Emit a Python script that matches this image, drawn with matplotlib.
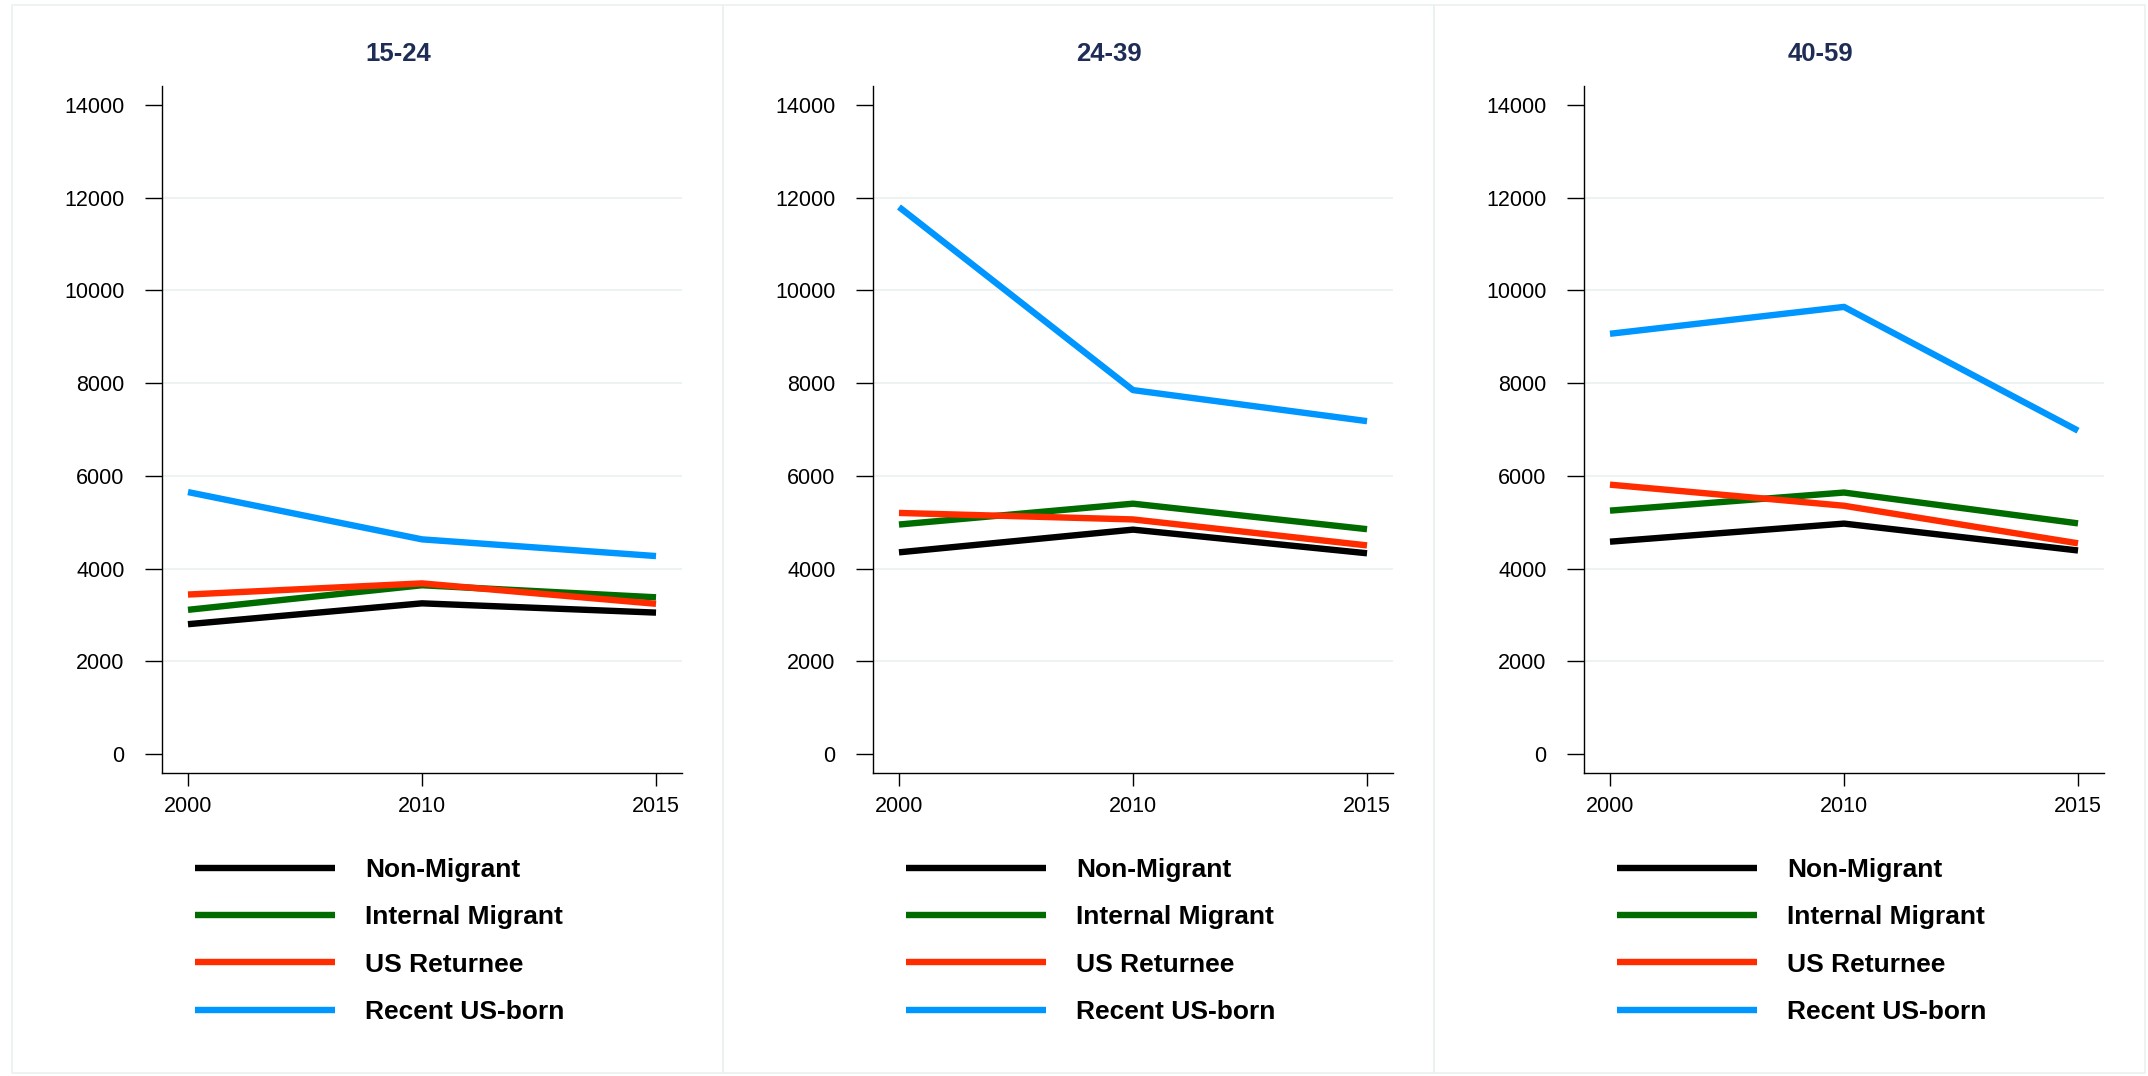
import matplotlib.pyplot as plt
from matplotlib.patches import Rectangle
import numpy as np

plt.rcParams['font.family'] = ['Liberation Sans', 'DejaVu Sans']

# chart data
years = ['2000', '2010', '2015']
age_groups = ['15-24', '24-39', '40-59']
series_names = ['Non-Migrant', 'Internal Migrant', 'US Returnee', 'Recent US-born']
series_colors = ['#000000', '#006c00', '#ff2c00', '#0096ff']

# one list per series, one row per age group
non_migrant = [[2800, 3250, 3050], [4350, 4840, 4330], [4580, 4970, 4390]]
internal_migrant = [[3110, 3640, 3380], [4950, 5400, 4850], [5250, 5640, 4975]]
us_returnee = [[3440, 3680, 3240], [5200, 5060, 4500], [5810, 5355, 4545]]
recent_us_born = [[5650, 4630, 4270], [11800, 7850, 7180], [9065, 9645, 6975]]

y_ticks = [0, 2000, 4000, 6000, 8000, 10000, 12000, 14000]

W, H = 2148, 1076
fig = plt.figure(figsize=(W / 100, H / 100), dpi=100)
fig.patch.set_facecolor('white')

panel_w = 711
all_series = [non_migrant, internal_migrant, us_returnee, recent_us_born]
x = np.arange(len(years))

for k, group in enumerate(age_groups):
    off = panel_w * k

    # light panel frame
    fig.patches.append(Rectangle(((12 + off) / W, 3 / H), panel_w / W, 1068 / H,
                                 transform=fig.transFigure, facecolor='none',
                                 edgecolor='#eaf1f1', lw=1.2, zorder=0))

    ax = fig.add_axes([(162 + off) / W, (H - 773) / H, 520 / W, 687 / H])
    for name, color, data in zip(series_names, series_colors, all_series):
        ax.plot(x, data[k], color=color, lw=4.6, label=name,
                solid_capstyle='butt', zorder=3)

    ax.set_xlim(-0.111, 2.111)
    ax.set_ylim(-410, 14410)
    ax.set_xticks(x)
    ax.set_xticklabels(years)
    ax.set_yticks(y_ticks)
    ax.set_yticklabels([str(v) for v in y_ticks])
    for v in y_ticks[1:-1]:
        ax.axhline(v, color='#eaf1f1', lw=1.2, zorder=1)

    for side in ['top', 'right']:
        ax.spines[side].set_visible(False)
    for side in ['left', 'bottom']:
        ax.spines[side].set_linewidth(1.0)
    ax.tick_params(axis='y', length=12, width=1.0, pad=15, labelsize=15.5)
    ax.tick_params(axis='x', length=9.5, width=1.0, pad=7, labelsize=15.5)

    fig.text((398 + off) / W, 1 - 54 / H, group, ha='center', va='center',
             fontsize=18.5, fontweight='bold', color='#1f2d56')

    ax.legend(loc='upper left', bbox_to_anchor=((182 + off) / W, 1 - 845 / H),
              bbox_transform=fig.transFigure, frameon=False, borderpad=0,
              handlelength=5.3, handletextpad=1.15, labelspacing=0.88,
              prop={'size': 19, 'weight': 'bold'})

fig.savefig('out.png', dpi=100, facecolor='white')
